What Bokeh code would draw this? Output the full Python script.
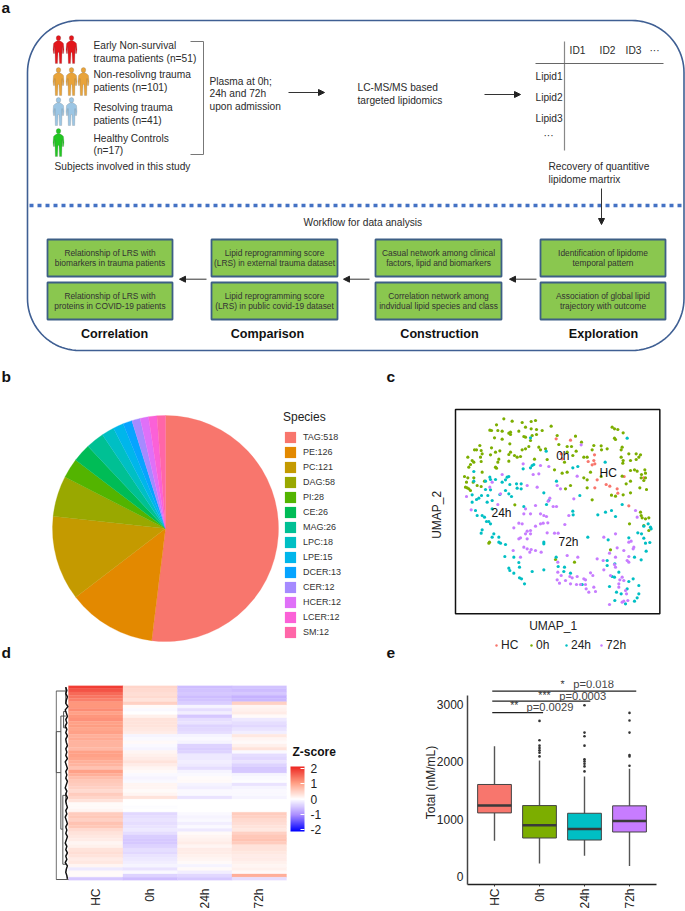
import numpy as np
from bokeh.plotting import figure
from bokeh.layouts import column, row
from bokeh.models import (Range1d, Arrow, NormalHead, Legend, LegendItem, LinearColorMapper,
                          ColorBar, FixedTicker, ColumnDataSource)
from bokeh.core.properties import value
from bokeh.transform import transform
from bokeh.embed import file_html
from bokeh.resources import INLINE

FONT = "Liberation Sans"

# ---------- panel b data
species = ["TAG", "PE", "PC", "DAG", "PI", "CE", "MAG", "LPC", "LPE", "DCER", "CER", "HCER", "LCER", "SM"]
species_n = [518, 126, 121, 58, 28, 26, 26, 18, 15, 13, 12, 12, 12, 12]
species_colors = ["#F8766D", "#E38900", "#C49A00", "#99A800", "#53B400", "#00BC56", "#00C094",
                  "#00BFC4", "#00B6EB", "#06A4FF", "#A58AFF", "#DF70F8", "#FB61D7", "#FF66A8"]

# ---------- panel c data (UMAP coordinates, estimated)
umap_0h = [(280,175),(305,182),(258,193),(238,209),(243,210),(262,210),(275,212),(300,215),(295,218),(335,186),(362,183),
 (375,180),(345,200),(362,205),(378,207),(395,210),(422,197),(325,212),(340,228),(345,230),(365,225),(378,222),(252,232),
 (275,236),(300,222),(440,225),(495,227),(445,252),(360,240),(385,260),(390,268),(405,265),(355,258),(345,265),(335,268),
 (243,262),(268,271),(255,275),(240,283),(298,250),(300,275),(295,282),(312,285),(320,290),(330,288),(192,268),(198,268),
 (208,255),(212,270),(215,280),(210,290),(172,290),(185,300),(190,305),(180,312),(212,303),(175,320),(265,296),(262,305),
 (255,320),(258,323),(295,302),(372,296),(410,297),(162,348),(172,352),(190,352),(188,365),(168,365),(170,382),(165,380),
 (175,385),(180,390),(200,375),(212,378),(222,362),(215,335),(605,200),(622,207),(612,205),(638,217),(612,233),(615,237),
 (635,260),(632,268),(590,265),(572,256),(573,268),(550,255),(545,268),(530,290),(520,290),(513,245),(470,258),(483,258),
 (497,272),(470,275),(487,285),(462,305),(470,335),(455,338),(432,328),(655,280),(660,300),(677,280),(690,283),(685,290),
 (677,297),(632,290),(638,300),(637,308),(660,330),(672,328),(680,332),(703,328),(705,338),(693,342),(692,352),(705,352),
 (700,360),(688,382),(708,387),(660,362),(647,370),(635,347),(572,348),(530,358),(520,352),(540,335),(530,382),(545,418),
 (603,404),(615,407),(660,397),(638,403),(690,455),(692,465),(695,472),(705,475),(715,472),(657,490),(700,495),(715,510),
 (237,545),(435,597),(492,605),(600,568),(313,433),(465,385),(480,375),(235,548)]
umap_hc = [(437,235),(480,239),(452,280),(455,295),(533,303),(552,283),(550,300),(553,310),(545,313),(560,358),(553,382),
 (587,372),(598,377),(620,385),(622,398),(641,348),(655,436),(700,352)]
umap_24h = [(650,233),(360,232),(407,272),(584,305),(365,315),(370,312),(360,322),(338,325),(487,322),(502,318),(190,333),
 (238,350),(240,357),(225,362),(255,357),(290,350),(295,348),(285,358),(275,365),(298,372),(318,370),(332,370),(320,383),
 (332,385),(190,362),(225,387),(240,388),(185,403),(213,405),(205,413),(198,417),(232,405),(245,420),(268,402),(285,390),
 (295,400),(303,408),(230,425),(185,425),(245,445),(195,450),(200,465),(215,465),(222,470),(228,483),(235,483),(240,490),
 (215,508),(212,518),(250,520),(245,530),(265,530),(265,545),(270,548),(285,552),(283,588),(310,590),(325,606),(295,623),
 (298,630),(310,638),(327,620),(327,652),(333,655),(342,670),(365,633),(400,628),(438,362),(400,397),(415,420),(408,432),
 (340,438),(487,452),(488,463),(532,530),(508,405),(400,545),(400,550),(562,463),(585,455),(603,450),(615,468),(635,432),
 (593,538),(682,517),(693,520),(700,497),(713,490),(720,500),(722,505),(700,533),(705,548),(718,546),(707,572),(672,590),
 (692,598),(655,532),(590,600),(590,615),(613,610),(625,635),(605,648),(612,650),(655,663),(668,655),(597,678),(618,695),
 (613,720),(632,700),(650,685),(685,675),(685,700),(680,712),(672,722),(645,730),(443,618),(462,620),(460,633),(480,638),
 (437,590),(515,672)]
umap_72h = [(512,253),(338,310),(390,315),(415,318),(275,342),(368,342),(385,340),(500,347),(245,365),(238,380),(350,375),
 (380,380),(440,375),(450,385),(270,400),(168,408),(182,448),(262,432),(345,445),(375,435),(418,413),(413,422),(428,438),
 (438,438),(390,460),(400,465),(408,468),(340,460),(360,460),(325,488),(335,490),(310,502),(375,497),(390,490),(412,487),
 (398,488),(463,492),(350,512),(360,510),(345,520),(330,532),(325,535),(360,520),(410,517),(432,518),(443,518),(350,535),
 (340,560),(350,565),(375,570),(362,567),(358,575),(392,575),(308,570),(330,590),(475,465),(490,415),(502,590),(470,585),
 (442,605),(442,635),(440,658),(452,645),(478,648),(485,652),(500,648),(447,668),(465,660),(480,670),(498,672),(510,672),
 (520,655),(525,658),(525,672),(540,637),(547,645),(527,685),(550,680),(535,695),(555,693),(580,530),(615,520),(620,562),
 (640,570),(655,545),(662,542),(670,560),(668,565),(560,595),(578,600),(597,578),(655,588),(650,600),(655,605),(615,590),
 (580,628),(600,645),(635,650),(628,658),(625,670),(640,660),(612,612),(615,620),(645,690),(625,680),(648,700),(640,722),
 (635,725),(652,720),(597,732),(675,450),(680,470)]

# ---------- panel d data (row z-scores)
heat_cols = ["HC", "0h", "24h", "72h"]
z_hc = [1.9,1.7,1.5,1.4,1.3,1.1,1.1,1.2,1.0,1.1,1.15,1.0,1.05,0.95,1.0,0.85,0.9,0.8,0.8,0.75,1.0,1.0,0.95,0.85,0.8,0.65,1.0,
        0.85,0.7,0.6,0.55,0.5,0.4,0.55,0.45,0.3,0.05,0.05,0.1,0.55,0.6,0.5,0.65,0.6,0.4,0.3,0.25,0.2,0.1,0.15,0.3,0.35,0.3,
        0.2,0.25,0.1,-0.2,0.05,0.05,-0.5]
z_0h = [0.45,0.4,0.35,0.4,0.3,0.5,0.05,-0.05,0.0,0.15,0.3,0.3,0.3,0.25,0.2,-0.1,-0.05,0.05,-0.05,-0.1,0.1,0.15,0.2,0.3,0.2,
        0.1,0.05,-0.05,-0.1,-0.05,0.1,0.1,0.05,0.1,0.3,0.0,0.0,-0.02,0.0,-0.35,-0.3,-0.25,-0.3,-0.25,-0.2,-0.3,-0.45,-0.5,
        -0.5,-0.4,-0.3,-0.35,-0.25,-0.2,-0.15,-0.1,-0.25,-0.05,-0.4,-0.6]
z_24h = [-0.6,-0.55,-0.5,-0.6,-0.55,-0.45,-0.1,-0.3,-0.15,-0.5,-0.3,-0.25,-0.4,-0.35,-0.3,-0.1,-0.05,-0.1,-0.4,-0.45,-0.4,
         -0.2,-0.2,-0.15,-0.2,-0.3,-0.1,-0.05,0.03,0.05,-0.1,-0.15,-0.05,-0.05,-0.25,0.0,0.0,0.0,0.0,-0.05,-0.1,-0.05,-0.15,
         -0.05,-0.2,0.05,0.1,0.15,0.2,0.1,0.2,0.2,0.15,0.1,0.05,-0.1,0.05,-0.15,-0.35,-0.5]
z_72h = [-0.55,-0.6,-0.5,-0.7,-0.65,0.5,0.1,0.15,0.2,0.05,-0.2,-0.3,-0.35,-0.25,-0.15,0.25,0.1,0.05,0.15,0.3,-0.05,-0.3,-0.35,
         -0.25,-0.4,-0.5,-0.5,-0.1,-0.05,-0.02,-0.25,-0.1,-0.05,-0.05,-0.1,0.0,0.0,0.0,0.0,0.55,0.5,0.4,0.35,0.3,0.25,0.5,
         0.6,0.65,0.55,0.3,0.3,0.25,0.2,0.2,0.15,0.1,0.15,0.05,0.85,-0.3]
dend_leaf = [-0.05,-0.03,-0.05,-0.02,-0.04,-0.05,-0.01,-0.06,-0.04,-0.02,-0.05,-0.03,-0.06,-0.03,-0.05,-0.02,-0.05,-0.04,
             -0.02,-0.05,-0.03,-0.05,-0.02,-0.06,-0.04,-0.02,-0.05,-0.03,-0.05,-0.02,-0.04,-0.06,-0.03,-0.05,-0.02,-0.05,
             -0.04,-0.02,-0.05,-0.03,-0.06,-0.04,-0.02,-0.05,-0.03,-0.05,-0.02,-0.04,-0.06,-0.03,-0.05,-0.02,-0.05,-0.03,
             -0.06,-0.02,-0.04,-0.05,-0.03,-0.02]
# dendrogram branches: (height, row from, row to)
dend_v = [(-0.226,1.7,59.7),(-0.226,14.2,26.8),(-0.14,9.4,44.2),(-0.09,8,13),(-0.104,33.8,55),(-0.05,0.5,5.5),(-0.05,33,36)]
dend_h = [(1.7,-0.226,-0.05),(59.7,-0.226,0.0),(14.2,-0.226,-0.14),(26.8,-0.226,-0.14),(9.4,-0.14,-0.05),(44.2,-0.14,-0.104),
          (8,-0.09,-0.04),(13,-0.09,-0.03),(33.8,-0.104,-0.03),(55,-0.104,-0.03)]

# ---------- panel e data
box_groups = ["HC", "0h", "24h", "72h"]
box_colors = ["#F8766D", "#7CAE00", "#00BFC4", "#C77CFF"]
box_q1 = [1109, 671, 636, 776]
box_med = [1237, 893, 829, 969]
box_q3 = [1605, 1237, 1103, 1232]
box_lo = [625, 228, 362, 181]
box_hi = [2270, 2025, 1745, 1880]
out_0h = [2714, 2376, 2282, 2241, 2200, 2160, 2095]
out_24h = [2988, 2510, 2446, 2282, 2043, 2008, 1967, 1920, 1833]
out_72h = [2854, 2720, 2510, 2119, 2095, 1932]
sig_lines = [(0.95, 4.15, 3234), (0.95, 3.13, 3059), (0.95, 2.08, 2860)]
sig_marks = [("*", 2.51, 3350), ("***", 2.11, 3170), ("**", 1.44, 2990)]
sig_p = [("p=0.018", 2.75, 3350), ("p=0.0003", 2.44, 3140), ("p=0.0029", 1.71, 2955)]

# ---------- panel a text
subject_lines = [("Early Non-survival", 45), ("trauma patients (n=51)", 57.7), ("Non-resolivng trauma", 74),
                 ("patients (n=101)", 86.7), ("Resolving trauma", 107), ("patients (n=41)", 120),
                 ("Healthy Controls", 138), ("(n=17)", 150)]
people = [(58, 35, "#E3161B"), (71, 35, "#E3161B"), (58, 67, "#E8A33A"), (71, 67, "#E8A33A"), (83, 67, "#E8A33A"),
          (58, 97, "#9CC6E4"), (71, 97, "#9CC6E4"), (58, 128, "#22C622")]
person_x = [-1, -3.5, -5, -5.5, -5, -4, -3.6, -3.5, -3.2, -1, -0.5, 0.5, 1, 3.2, 3.5, 3.6, 4, 5, 5.5, 5, 3.5, 1]
person_y = [5, 6.5, 8, 14, 18, 18, 11, 16, 28, 28, 17, 17, 28, 28, 16, 11, 18, 18, 14, 8, 6.5, 5]
boxes = [(47, 172, 239, 276, ["Relationship of LRS with", "biomarkers in trauma patients"]),
         (47, 172, 282, 319, ["Relationship of LRS with", "proteins in COVID-19 patients"]),
         (211, 337, 239, 276, ["Lipid reprogramming score", "(LRS) in external trauma dataset"]),
         (211, 337, 282, 319, ["Lipid reprogramming score", "(LRS) in public covid-19 dataset"]),
         (375, 501, 239, 276, ["Casual network among clinical", "factors, lipid and biomarkers"]),
         (375, 501, 282, 319, ["Correlation network among", "indvidual lipid species and class"]),
         (540, 665, 239, 276, ["Identification of lipidome", "temporal pattern"]),
         (540, 665, 282, 319, ["Association of global lipid", "trajectory with outcome"])]
headers = [("Correlation", 114), ("Comparison", 267), ("Construction", 439), ("Exploration", 603)]


def fig(w, h, xr, yr, **kw):
    p = figure(width=w, height=h, x_range=Range1d(*xr), y_range=Range1d(*yr), output_backend="svg",
               toolbar_location=None, tools="", **kw)
    p.grid.visible = False
    p.background_fill_color = None
    p.border_fill_color = None
    p.outline_line_color = None
    p.margin = (0, 0, 0, 0)
    return p


def txt(p, x, y, s, size=10.2, color="#2b2b2b", align="left", bold=False, angle=0):
    p.text([x], [y], text=[s], text_font=value(FONT), text_font_size=f"{size}px", text_color=color,
           text_align=align, text_baseline="middle", angle=angle,
           text_font_style="bold" if bold else "normal")


def arrow(p, x0, y0, x1, y1):
    p.add_layout(Arrow(end=NormalHead(size=6, fill_color="#222", line_color="#222"), x_start=x0, y_start=y0, x_end=x1,
                       y_end=y1, line_color="#333", line_width=1))


# ============ panel a
pa = fig(685, 352, (0, 685), (352, 0), min_border=0)
pa.axis.visible = False
L, R, T, B, r0 = 27, 683.5, 20, 350, 52
th = np.linspace(0, np.pi / 2, 24)
rx = np.concatenate([L + r0 - r0 * np.cos(th), R - r0 + r0 * np.sin(th), R - r0 + r0 * np.cos(th), L + r0 - r0 * np.sin(th), [L]])
ry = np.concatenate([T + r0 - r0 * np.sin(th), T + r0 - r0 * np.cos(th), B - r0 + r0 * np.sin(th), B - r0 + r0 * np.cos(th), [T + r0]])
pa.line(rx, ry, line_color="#3F5F93", line_width=1.6)
pa.line([29, 682], [205, 205], line_color="#4472C4", line_width=3.4, line_dash="4 4")
for x, y, c in people:
    pa.patch([x + v for v in person_x], [y + v for v in person_y], fill_color=c, line_color="#555", line_alpha=0.3, line_width=0.6)
    pa.ellipse([x], [y + 2.6], width=4.6, height=5.2, fill_color=c, line_color="#555", line_alpha=0.3, line_width=0.6)
for s, y in subject_lines:
    txt(pa, 93, y, s)
txt(pa, 54, 166, "Subjects involved in this study")
pa.line([190, 203, 203, 190], [41, 41, 154, 154], line_color="#777", line_width=1)
for s, y in [("Plasma at 0h;", 80.5), ("24h and 72h", 93), ("upon admission", 105.5)]:
    txt(pa, 209, y, s)
arrow(pa, 288, 92, 324, 92)
txt(pa, 357, 87, "LC-MS/MS based")
txt(pa, 357, 100, "targeted lipidomics")
arrow(pa, 484, 94, 520, 94)
pa.line([564, 564], [41, 150], line_color="#888", line_width=1.2)
pa.line([535, 663], [63, 63], line_color="#666", line_width=1)
for s, x in [("ID1", 577), ("ID2", 607), ("ID3", 633), ("···", 654)]:
    txt(pa, x, 50, s, align="center")
for s, y in [("Lipid1", 75.5), ("Lipid2", 97), ("Lipid3", 118)]:
    txt(pa, 535, y, s)
txt(pa, 548, 135, "···", align="center")
txt(pa, 548, 166, "Recovery of quantitive")
txt(pa, 548, 178.5, "lipidome martrix")
arrow(pa, 601, 188, 601, 224)
txt(pa, 303, 221.6, "Workflow for data analysis")
for x0, x1, y0, y1, lines in boxes:
    pa.quad(left=[x0], right=[x1], top=[y0], bottom=[y1], fill_color="#8AC74F", line_color="#3D5F85", line_width=1.8)
    c = (x0 + x1) / 2
    m = (y0 + y1) / 2
    txt(pa, c, m - 5.2, lines[0], size=8.4, align="center", color="#333")
    txt(pa, c, m + 5, lines[1], size=8.4, align="center", color="#333")
for x0, x1 in [(206, 179), (369, 343), (536, 509)]:
    arrow(pa, x0, 278.7, x1, 278.7)
for s, x in headers:
    txt(pa, x, 333.7, s, size=12.6, align="center", bold=True, color="#111")
txt(pa, 1, 7, "a", size=15.5, bold=True, color="#111")

# ============ panel b (also carries panel letters b, c, d, e)
pb = fig(420, 308, (0, 420), (0, 308), min_border=0)
pb.axis.visible = False
ang = 2 * np.pi * np.array(species_n) / sum(species_n)
cum = np.concatenate([[0], np.cumsum(ang)])
src = ColumnDataSource(dict(start=np.pi / 2 - cum[:-1], end=np.pi / 2 - cum[1:], color=species_colors,
                            nanx=[np.nan] * len(species), label=[f"{s}:{n}" for s, n in zip(species, species_n)]))
pb.wedge(x=165, y=132, radius=113, start_angle="start", end_angle="end", direction="clock", fill_color="color",
         line_color="color", line_width=0.3, source=src)
dummy = pb.rect(x="nanx", y="nanx", width=1, height=1, fill_color="color", line_color=None, source=src)
items = [LegendItem(label=src.data["label"][i], renderers=[dummy], index=i) for i in range(len(species))]
leg = Legend(items=items, title="Species", location=(283, 21), glyph_width=14, glyph_height=14, label_height=14, spacing=1,
             padding=0, margin=0, label_standoff=6, background_fill_color=None, border_line_color=None,
             label_text_font=FONT, label_text_font_size="9px", label_text_color="#333",
             title_text_font=FONT, title_text_font_size="12px", title_text_color="#222", title_text_font_style="normal",
             title_standoff=6)
pb.add_layout(leg, "center")
txt(pb, 1, 284, "b", size=15.5, bold=True, color="#111")
txt(pb, 386, 284, "c", size=15.5, bold=True, color="#111")
txt(pb, 1, 8, "d", size=15.5, bold=True, color="#111")
txt(pb, 386, 8, "e", size=15.5, bold=True, color="#111")

# ============ panel c (frame spans the whole figure so that the legend below the box is not clipped)
pc = fig(265, 308, (30, 825), (900, -24), min_border=0)
pc.axis.visible = False
pc.quad(left=[135], right=[748], top=[147], bottom=[760], fill_color=None, line_color="#111", line_width=1.5)
uitems = []
for name, pts, c in [("HC", umap_hc, "#F8766D"), ("0h", umap_0h, "#7CAE00"), ("24h", umap_24h, "#00BFC4"), ("72h", umap_72h, "#C77CFF")]:
    r = pc.scatter([q[0] for q in pts], [q[1] for q in pts], size=3.2, fill_color=c, line_color=None)
    uitems.append(LegendItem(label=name, renderers=[r]))
for s, x, y in [("0h", 457, 285), ("HC", 593, 337), ("24h", 273, 456), ("72h", 474, 545)]:
    txt(pc, x, y, s, size=12, color="#111", align="center")
txt(pc, 428, 795, "UMAP_1", size=12, color="#222", align="center")
txt(pc, 80, 463, "UMAP_2", size=12, color="#222", align="center", angle=np.pi / 2)
uleg = Legend(items=uitems, orientation="horizontal", location=(73, 8), glyph_width=6, glyph_height=14, label_height=14,
              spacing=7, padding=0, margin=0, label_standoff=2, background_fill_color=None, border_line_color=None,
              label_text_font=FONT, label_text_font_size="12px", label_text_color="#222")
pc.add_layout(uleg, "center")

# ============ panel d
pd_ = fig(420, 251, (-0.2385, 6.459), (60, 0), min_border_left=55, min_border_right=0, min_border_top=25, min_border_bottom=24)
anchors_z = [0.0, 0.25, 0.5, 0.75, 1.0]
anchors_c = [(0, 0, 255), (169, 140, 255), (255, 255, 255), (255, 158, 131), (238, 39, 34)]
palette = []
for t in np.linspace(0, 1, 255):
    palette.append("#%02x%02x%02x" % tuple(int(np.interp(t, anchors_z, [c[k] for c in anchors_c])) for k in range(3)))
mapper = LinearColorMapper(palette=palette, low=-2.1, high=2.1)
z_all = [z_hc, z_0h, z_24h, z_72h]
xs, ys, zs = [], [], []
for j, col in enumerate(z_all):
    for i, zv in enumerate(col):
        xs.append(j + 0.5)
        ys.append(i + 0.5)
        zs.append(zv)
hsrc = ColumnDataSource(dict(x=xs, y=ys, z=zs))
pd_.rect(x="x", y="y", width=1, height=1, fill_color=transform("z", mapper), line_color=transform("z", mapper), line_width=0.3, source=hsrc)
for hv, r0_, r1_ in dend_v:
    pd_.line([hv, hv], [r0_, r1_], line_color="#555", line_width=1)
for rv, x0, x1 in dend_h:
    pd_.line([x0, x1], [rv, rv], line_color="#555", line_width=1)
pd_.line(dend_leaf, [i + 0.5 for i in range(len(dend_leaf))], line_color="#111", line_width=1.5)
pd_.yaxis.visible = False
pd_.xaxis.ticker = FixedTicker(ticks=[0.5, 1.5, 2.5, 3.5])
pd_.xaxis.major_label_overrides = {0.5: "HC", 1.5: "0h", 2.5: "24h", 3.5: "72h"}
pd_.xaxis.major_label_orientation = np.pi / 2
pd_.xaxis.axis_line_color = None
pd_.xaxis.major_tick_line_color = None
pd_.xaxis.minor_tick_line_color = None
pd_.xaxis.major_label_text_font = FONT
pd_.xaxis.major_label_text_font_size = "12px"
pd_.xaxis.major_label_text_color = "#222"
pd_.xaxis.major_label_standoff = 2
cb = ColorBar(color_mapper=mapper, ticker=FixedTicker(ticks=[-2, -1, 0, 1, 2]), width=14, height=65, location=(235, 49),
              padding=0, margin=0, major_label_text_font=FONT,
              major_label_overrides={-2: "-2", -1: "-1", 0: "0", 1: "1", 2: "2"},
              major_label_text_font_size="12px", major_label_text_color="#222", major_tick_line_color="white",
              major_tick_in=4, major_tick_out=0, minor_tick_line_color=None, bar_line_color=None,
              background_fill_color=None, border_line_color=None, label_standoff=6)
pd_.add_layout(cb, "center")
txt(pd_, 4.11, 20.5, "Z-score", size=12, bold=True, color="#111")

# ============ panel e
pe = fig(265, 251, (0.4, 4.6), (-140, 3419), min_border_left=47, min_border_right=29, min_border_top=20, min_border_bottom=27)
pos = [1, 2, 3, 4]
pe.segment(pos, box_lo, pos, box_hi, line_color="#555", line_width=1.4)
pe.vbar(x=pos, bottom=box_q1, top=box_q3, width=0.75, fill_color=box_colors, line_color="#444", line_width=1)
pe.segment([v - 0.375 for v in pos], box_med, [v + 0.375 for v in pos], box_med, line_color="#3a3a3a", line_width=2.4)
for px, vals in [(2, out_0h), (3, out_24h), (4, out_72h)]:
    pe.scatter([px] * len(vals), vals, size=2.6, fill_color="#333", line_color=None)
for x0, x1, y in sig_lines:
    pe.line([x0, x1], [y, y], line_color="#222", line_width=1.2)
for s, x, y in sig_marks:
    txt(pe, x, y, s, size=10.5, color="#333", align="center")
for s, x, y in sig_p:
    txt(pe, x, y, s, size=11.2, color="#444")
pe.xaxis.ticker = FixedTicker(ticks=pos)
pe.xaxis.major_label_overrides = dict(zip(pos, box_groups))
pe.xaxis.major_label_orientation = np.pi / 2
pe.xaxis.axis_line_color = "#222"
pe.xaxis.axis_line_width = 1.5
pe.xaxis.major_tick_in = 0
pe.xaxis.major_tick_out = 2
pe.xaxis.major_tick_line_color = "#333"
pe.xaxis.minor_tick_line_color = None
pe.xaxis.major_label_standoff = 2
pe.yaxis.ticker = FixedTicker(ticks=[0, 1000, 2000, 3000])
pe.yaxis.bounds = (-140, 3160)
pe.yaxis.axis_line_color = "#444"
pe.yaxis.axis_line_width = 1.5
pe.yaxis.major_tick_line_color = None
pe.yaxis.major_tick_in = 0
pe.yaxis.major_tick_out = 0
pe.yaxis.minor_tick_line_color = None
pe.yaxis.minor_tick_out = 0
pe.yaxis.major_label_standoff = 4
pe.yaxis.major_label_orientation = "horizontal"
pe.yaxis.axis_label = "Total (nM/mL)"
pe.yaxis.axis_label_standoff = -4
pe.yaxis.axis_label_text_font = FONT
pe.yaxis.axis_label_text_font_size = "12px"
pe.yaxis.axis_label_text_font_style = "normal"
pe.yaxis.axis_label_text_color = "#222"
for ax in (pe.xaxis, pe.yaxis):
    ax.major_label_text_font = FONT
    ax.major_label_text_font_size = "12px"
    ax.major_label_text_color = "#222"

page = column(pa,
              row(column(pb, margin=0), column(pc, margin=0), spacing=0, margin=0),
              row(column(pd_, margin=0), column(pe, margin=0), spacing=0, margin=0),
              spacing=0, margin=0)
open("out.html", "w").write(file_html(page, INLINE))
